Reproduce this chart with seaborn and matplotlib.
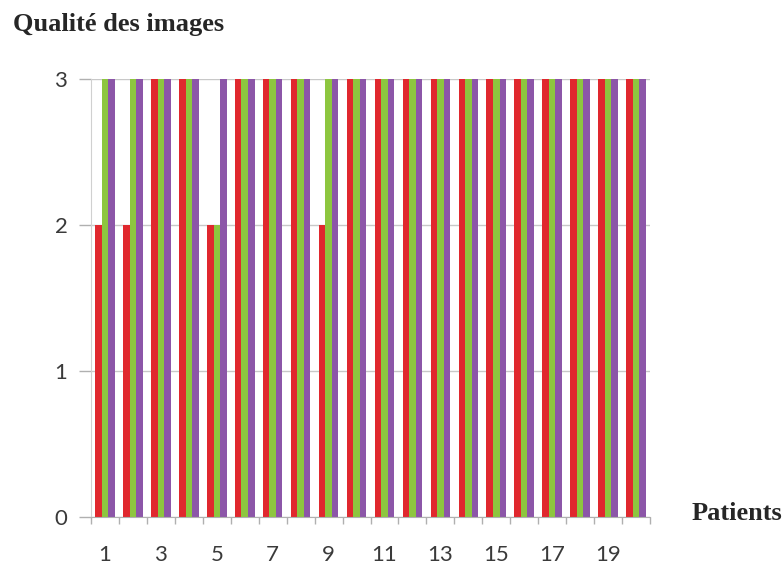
import numpy as np
import pandas as pd
import seaborn as sns
import matplotlib.pyplot as plt

# données
patients = list(range(1, 21))
serie_rouge = [2, 2, 3, 3, 2, 3, 3, 3, 2, 3, 3, 3, 3, 3, 3, 3, 3, 3, 3, 3]
serie_verte = [3, 3, 3, 3, 2, 3, 3, 3, 3, 3, 3, 3, 3, 3, 3, 3, 3, 3, 3, 3]
serie_violette = [3] * 20
series = ['Série 1', 'Série 2', 'Série 3']
couleurs = ['#e0282e', '#8dc63f', '#8c56a8']
labels_x = [str(p) if p % 2 == 1 else '' for p in patients]

df = pd.DataFrame({
    'patient': patients * 3,
    'serie': [series[0]] * 20 + [series[1]] * 20 + [series[2]] * 20,
    'qualite': serie_rouge + serie_verte + serie_violette,
})

sns.set_style('white')
plt.rcParams['font.family'] = ['Lato', 'DejaVu Sans']

fig = plt.figure(figsize=(7.84, 5.70), dpi=100)
ax = fig.add_axes([91 / 784, 1 - 517 / 570, (650 - 91) / 784, (517 - 79) / 570])

sns.barplot(data=df, x='patient', y='qualite', hue='serie', order=patients,
            hue_order=series, palette=couleurs, saturation=1, width=0.7,
            linewidth=0, legend=False, ax=ax)

ax.set_ylim(0, 3)
ax.set_xlim(-0.5, 19.5)
ax.set_yticks([0, 1, 2, 3])
ax.yaxis.grid(True, color='#c8c8c8', linewidth=1)
ax.set_axisbelow(True)

# graduations entre les catégories, étiquettes au centre
ax.set_xticks(np.arange(-0.5, 20, 1))
ax.set_xticklabels([])
ax.set_xticks(range(20), minor=True)
ax.set_xticklabels(labels_x, minor=True)
ax.tick_params(axis='x', which='major', length=5, color='#b0b0b0', width=1,
               direction='out', bottom=True)
ax.tick_params(axis='x', which='minor', length=0, pad=20, labelsize=16,
               labelcolor='#3a3a3a')
ax.tick_params(axis='y', length=9, color='#b0b0b0', width=1, left=True,
               pad=8, labelsize=16, labelcolor='#3a3a3a')

for side in ['top', 'right']:
    ax.spines[side].set_visible(False)
ax.spines['left'].set_color('#d0d0d0')
ax.spines['bottom'].set_color('#b0b0b0')
ax.set_xlabel('')
ax.set_ylabel('')

fig.text(13 / 784, 1 - 24 / 570, 'Qualité des images', family='Liberation Serif',
         fontweight='bold', fontsize=19, va='center', ha='left')
fig.text(692 / 784, 1 - 513 / 570, 'Patients', family='Liberation Serif',
         fontweight='bold', fontsize=19, va='center', ha='left')

fig.savefig('out.png', dpi=100)
